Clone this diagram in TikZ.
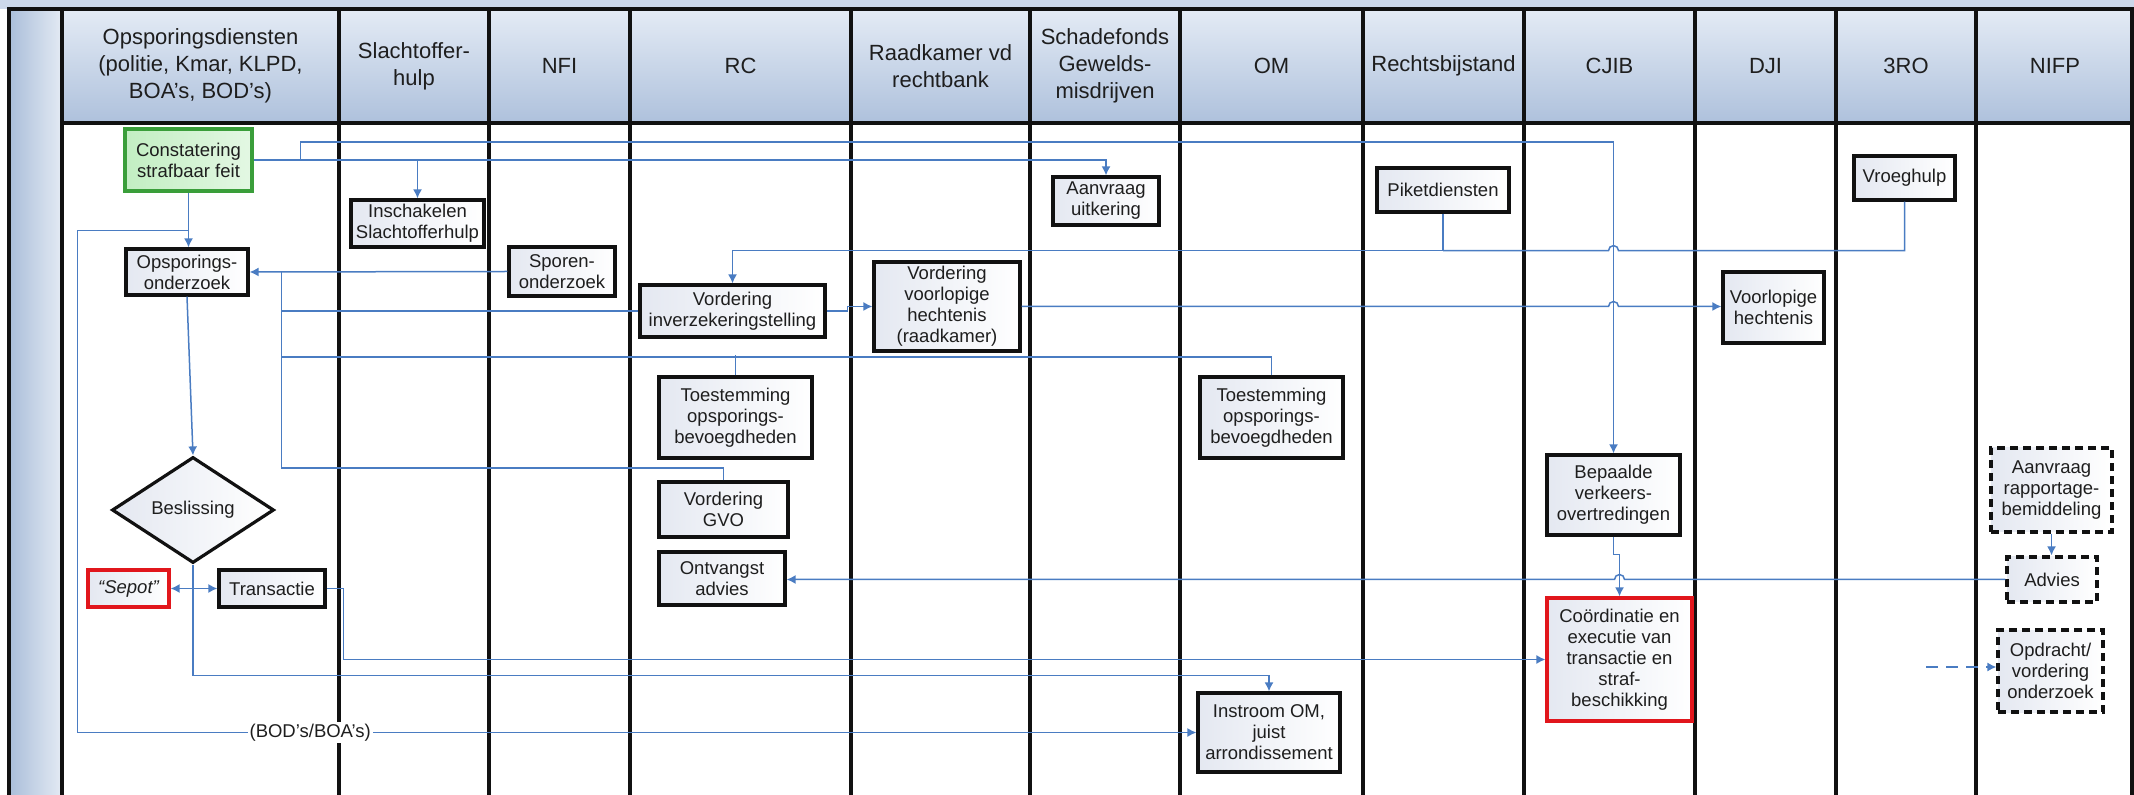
\documentclass[tikz,border=0pt]{standalone}
\usepackage{fontspec}
\setmainfont{Liberation Sans}
\usepackage{tikz}
\usetikzlibrary{arrows.meta,calc,shapes.geometric}
\definecolor{LaneInk}{HTML}{111111}
\definecolor{FlowBlue}{HTML}{4A7CC2}
\definecolor{HeadTop}{HTML}{E4EBF5}
\definecolor{HeadBottom}{HTML}{AEC1DC}
\definecolor{BarDark}{HTML}{AABED9}
\definecolor{BarLight}{HTML}{E3EAF4}
\definecolor{BoxShade}{HTML}{E4E8F1}
\definecolor{StartGreen}{HTML}{3A9E3A}
\definecolor{StartFill}{HTML}{C2EEC2}
\definecolor{StopRed}{HTML}{E1161C}
\definecolor{TextInk}{HTML}{1E1E1E}

\begin{document}
\begin{tikzpicture}[x=0.5pt,y=-0.5pt,>={Latex[length=4.5pt,width=4.5pt]},
  lane/.style={LaneInk,line width=1.8pt},
  lanehead/.style={align=center,font=\fontsize{11}{13.5}\selectfont,text=TextInk},
  box/.style={draw=LaneInk,line width=1.6pt,left color=BoxShade,right color=white,
    align=center,inner sep=1pt,font=\fontsize{9.25}{10.5}\selectfont,text=TextInk},
  startbox/.style={box,draw=StartGreen,left color=StartFill,right color=StartFill!45},
  stopbox/.style={box,draw=StopRed},
  dashbox/.style={box,dash pattern=on 4pt off 2.5pt},
  decision/.style={box,diamond,inner sep=0pt,aspect=1.5},
  conn/.style={FlowBlue,line width=0.75pt},
  hoplabel/.style={fill=white,inner sep=1pt,font=\fontsize{9.25}{10.5}\selectfont,text=TextInk}]
  \useasboundingbox (0,0) rectangle (2134,795);
  \fill[HeadTop!55!HeadBottom] (0,0) rectangle (2134,9);
  \shade[left color=BarDark,right color=BarLight] (9,9) rectangle (62,795);
  \foreach \xa/\xb/\lbl/\nm in {62/339/{Opsporingsdiensten\\(politie, Kmar, KLPD,\\BOA’s, BOD’s)}/ops,
    339/489/{Slachtoffer-\\hulp}/slo, 489/630/NFI/nfi, 630/851/RC/rc,
    851/1030/{Raadkamer vd\\rechtbank}/rk, 1030/1180/{Schadefonds\\Gewelds-\\misdrijven}/sgm,
    1180/1363/OM/om, 1363/1524/Rechtsbijstand/rb, 1524/1695/CJIB/cjib,
    1695/1836/DJI/dji, 1836/1976/3RO/dro, 1976/2134/NIFP/nifp}{
    \shade[top color=HeadTop,bottom color=HeadBottom] (\xa,9) rectangle (\xb,123);
    \node[lanehead] (hd\nm) at ({(\xa+\xb)/2},66) {\lbl};
  }
  \draw[lane] (9,795) -- (9,9) -- (2132,9) -- (2132,795);
  \draw[lane] (62,123) -- (2132,123);
  \foreach \xl in {62,339,489,630,851,1030,1180,1363,1524,1695,1836,1976}
    \draw[lane] (\xl,9) -- (\xl,795);

  \node[startbox,minimum width=63.5pt,minimum height=31pt] (constat) at (188.5,160) {Constatering\\strafbaar feit};
  \node[box,minimum width=66.5pt,minimum height=23.5pt] (slhulp) at (417.5,223.5) {Inschakelen\\Slachtofferhulp};
  \node[box,minimum width=61pt,minimum height=23pt] (opsonderz) at (187,272) {Opsporings-\\onderzoek};
  \node[box,minimum width=53pt,minimum height=24.5pt] (sporen) at (562,271.5) {Sporen-\\onderzoek};
  \node[box,minimum width=53pt,minimum height=24pt] (aanvraag) at (1106,201) {Aanvraag\\uitkering};
  \node[box,minimum width=66pt,minimum height=22pt] (piket) at (1443,190) {Piketdiensten};
  \node[box,minimum width=50.5pt,minimum height=22pt] (vroeg) at (1904.5,178) {Vroeghulp};
  \node[box,minimum width=92.5pt,minimum height=26pt] (inverz) at (732.5,311) {Vordering\\inverzekeringstelling};
  \node[box,minimum width=73pt,minimum height=44.5pt] (vvh) at (947,306.5) {Vordering\\voorlopige\\hechtenis\\(raadkamer)};
  \node[box,minimum width=50.5pt,minimum height=35.5pt] (vhdji) at (1773.5,307.5) {Voorlopige\\hechtenis};
  \node[box,minimum width=76.5pt,minimum height=40.5pt] (toestrc) at (735.5,417.5) {Toestemming\\opsporings-\\bevoegdheden};
  \node[box,minimum width=71.5pt,minimum height=40.5pt] (toestom) at (1271.5,417.5) {Toestemming\\opsporings-\\bevoegdheden};
  \node[box,minimum width=64.5pt,minimum height=27.5pt] (gvo) at (723.5,509.5) {Vordering\\GVO};
  \node[box,minimum width=63pt,minimum height=26.5pt] (ontv) at (722,578.5) {Ontvangst\\advies};
  \node[decision,minimum width=81pt,minimum height=53pt] (besl) at (193,510) {Beslissing};
  \node[stopbox,minimum width=40.5pt,minimum height=18.5pt] (sepot) at (128.5,588.5) {\itshape “Sepot”};
  \node[box,minimum width=53pt,minimum height=18.5pt] (trans) at (272,588.5) {Transactie};
  \node[box,minimum width=66.5pt,minimum height=40pt] (bepaalde) at (1613.5,495) {Bepaalde\\verkeers-\\overtredingen};
  \node[stopbox,minimum width=72.5pt,minimum height=61.5pt] (coord) at (1619.5,659.5) {Coördinatie en\\executie van\\transactie en\\straf-\\beschikking};
  \node[box,minimum width=71pt,minimum height=39.5pt] (instroom) at (1269,732.5) {Instroom OM,\\juist\\arrondissement};
  \node[dashbox,minimum width=60.5pt,minimum height=42pt] (rapport) at (2051.5,490) {Aanvraag\\rapportage-\\bemiddeling};
  \node[dashbox,minimum width=45pt,minimum height=22.5pt] (advies) at (2052,579.5) {Advies};
  \node[dashbox,minimum width=52.5pt,minimum height=41pt] (opdracht) at (2050.5,671) {Opdracht/\\vordering\\onderzoek};

  \coordinate (bus) at ($(opsonderz.east)+(32,0)$);
  \coordinate (rbus) at ($(piket.south)+(0,37)$);
  \coordinate (bodturn) at ($(constat.south)+(-111,38)$);
  \coordinate (opdrin) at ($(opdracht.west)+(-70,-4)$);

  \draw[conn,->] (constat.south) -- (constat.south |- opsonderz.north);
  \draw[conn,->] (constat.east) -| (aanvraag.north);
  \draw[conn,->] (constat.east -| slhulp.north) -- (slhulp.north);
  \draw[conn,->] ($(constat.east)+(47,0)$) -- ++(0,-18) -| (bepaalde.north);
  \draw[conn,->] (constat.south |- bodturn) -- (bodturn) |- (instroom.west)
    node[hoplabel,pos=0.604] (bodlbl) {(BOD’s/BOA’s)};
  \draw[conn,->] (sporen.west) -- (opsonderz.east);
  \draw[conn] (inverz.west) -| (bus);
  \draw[conn] (toestom.north) |- ($(bus)+(0,85)$) -- (bus);
  \draw[conn] (toestrc.north) -- ++(0,-20);
  \draw[conn] (gvo.north) |- ($(bus)+(0,196)$) -- (bus);
  \draw[conn,->] (opsonderz.south) -- (besl.north);
  \draw[conn,->] (besl.south) |- ($(instroom.north)+(0,-16)$) -- (instroom.north);
  \draw[conn,<->] (trans.west) -- (sepot.east);
  \draw[conn,->] (trans.east) -- ++(17,0) |- (coord.west);
  \draw[conn,->] (piket.south) -- (rbus) -| (inverz.north);
  \draw[conn] (vroeg.south) |- ($(bepaalde.north |- rbus)+(5,0)$)
    arc[start angle=0,end angle=180,radius=2.5pt] -- (rbus);
  \draw[conn,->] (inverz.east) -- ++(21,0) |- (vvh.west);
  \draw[conn,->] (vvh.east) -- ($(vvh.east -| bepaalde.north)+(-5,0)$)
    arc[start angle=180,end angle=0,radius=2.5pt] -- (vvh.east -| vhdji.west);
  \draw[conn,->] (bepaalde.south) -- ++(0,18) -| (coord.north);
  \draw[conn,->] (rapport.south) -- (rapport.south |- advies.north);
  \draw[conn,->] (advies.west) -- ($(advies.west -| coord.north)+(5,0)$)
    arc[start angle=0,end angle=180,radius=2.5pt] -- (advies.west -| ontv.east);
  \draw[conn,->,dash pattern=on 6pt off 4pt] (opdrin) -- (opdrin -| opdracht.west);
\end{tikzpicture}
\end{document}
